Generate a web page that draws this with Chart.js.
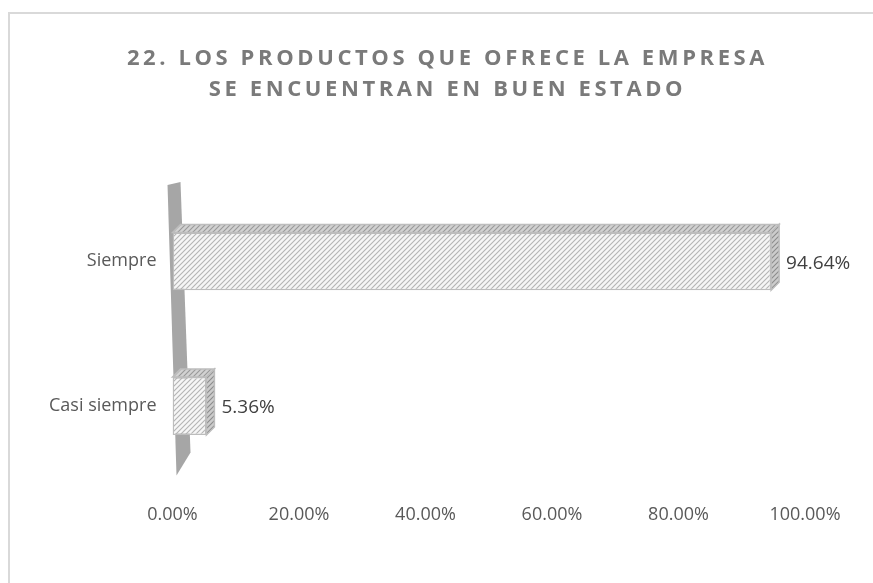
<!DOCTYPE html>
<html>
<head>
<meta charset="utf-8">
<script src="https://cdn.jsdelivr.net/npm/chart.js@4"></script>
<style>
    html, body { margin: 0; padding: 0; background: #fff; overflow: hidden; }
    #wrap { position: relative; width: 873px; height: 583px; overflow: hidden; }
    #title {
        position: absolute; left: 11px; top: 41px; width: 873px; text-align: center;
        font-family: 'Open Sans', sans-serif; font-weight: bold; font-size: 22px;
        letter-spacing: 3.6px; line-height: 31px; color: #7a7a7a;
    }
    canvas { position: absolute; left: 0; top: 0; }
</style>
</head>
<body>
<div id="wrap">
    <canvas id="chart" width="873" height="583"></canvas>
    <div id="title">22. LOS PRODUCTOS QUE OFRECE LA EMPRESA<br>SE ENCUENTRAN EN BUEN ESTADO</div>
</div>
<script>
// chart data
const categories = ['Siempre', 'Casi siempre'];
const percentValues = [0.9464, 0.0536];
const tickValues = [0, 0.2, 0.4, 0.6, 0.8, 1];

const DEPTH_X = 8;
const DEPTH_Y = -8;

function makeHatch(bg, line) {
    const c = document.createElement('canvas');
    c.width = 5;
    c.height = 5;
    const g = c.getContext('2d');
    g.fillStyle = bg;
    g.fillRect(0, 0, 5, 5);
    g.strokeStyle = line;
    g.lineWidth = 1.1;
    g.beginPath();
    g.moveTo(-1, 6); g.lineTo(6, -1);
    g.moveTo(-1, 1); g.lineTo(1, -1);
    g.moveTo(4, 6); g.lineTo(6, 4);
    g.stroke();
    return g.createPattern(c, 'repeat');
}

const ctx = document.getElementById('chart').getContext('2d');
const frontHatch = makeHatch('#f6f6f6', '#b4b4b4');
const topHatch = makeHatch('#d2d2d2', '#999999');
const sideHatch = makeHatch('#cccccc', '#8c8c8c');

// outer chart frame (only top and left edges are inside the picture)
const framePlugin = {
    id: 'frame',
    beforeDraw(chart) {
        const c = chart.ctx;
        c.save();
        c.strokeStyle = '#d9d9d9';
        c.lineWidth = 2;
        c.beginPath();
        c.moveTo(9, chart.height + 5);
        c.lineTo(9, 13);
        c.lineTo(chart.width + 5, 13);
        c.stroke();
        c.restore();
    }
};

// back wall + 3D faces of bars
const depthPlugin = {
    id: 'depth',
    beforeDatasetsDraw(chart) {
        const c = chart.ctx;
        const area = chart.chartArea;
        const x0 = chart.scales.x.getPixelForValue(0);
        c.save();
        c.fillStyle = '#a6a6a6';
        c.beginPath();
        c.moveTo(x0 - 5, area.top - 4);
        c.lineTo(x0 + 8, area.top - 7);
        c.lineTo(x0 + 18, area.bottom - 26);
        c.lineTo(x0 + 4, area.bottom - 3);
        c.closePath();
        c.fill();
        c.restore();
    },
    afterDatasetsDraw(chart) {
        const c = chart.ctx;
        const meta = chart.getDatasetMeta(0);
        c.save();
        meta.data.forEach((bar) => {
            const left = bar.base;
            const right = bar.x;
            const top = bar.y - bar.height / 2;
            const bottom = bar.y + bar.height / 2;
            c.strokeStyle = '#bdbdbd';
            c.lineWidth = 1.5;
            // top face
            c.fillStyle = topHatch;
            c.beginPath();
            c.moveTo(left, top);
            c.lineTo(left + DEPTH_X, top + DEPTH_Y);
            c.lineTo(right + DEPTH_X, top + DEPTH_Y);
            c.lineTo(right, top);
            c.closePath();
            c.fill();
            c.stroke();
            // right face
            c.fillStyle = sideHatch;
            c.beginPath();
            c.moveTo(right, top);
            c.lineTo(right + DEPTH_X, top + DEPTH_Y);
            c.lineTo(right + DEPTH_X, bottom + DEPTH_Y);
            c.lineTo(right, bottom);
            c.closePath();
            c.fill();
            c.stroke();
        });
        // value labels
        c.fillStyle = '#404040';
        c.font = '19px "Open Sans", sans-serif';
        c.textBaseline = 'middle';
        c.textAlign = 'left';
        meta.data.forEach((bar, i) => {
            const label = (percentValues[i] * 100).toFixed(2) + '%';
            c.fillText(label, bar.x + DEPTH_X + 7, bar.y + 2);
        });
        c.restore();
    }
};

new Chart(ctx, {
    type: 'bar',
    data: {
        labels: categories,
        datasets: [{
            data: percentValues,
            backgroundColor: frontHatch,
            borderColor: '#bdbdbd',
            borderWidth: 1.5,
            borderSkipped: false,
            barPercentage: 0.4,
            categoryPercentage: 1
        }]
    },
    options: {
        indexAxis: 'y',
        responsive: false,
        animation: false,
        layout: {
            padding: { top: 189, left: 33, right: 68, bottom: 31 }
        },
        plugins: {
            legend: { display: false },
            title: { display: false },
            tooltip: { enabled: false }
        },
        scales: {
            x: {
                min: 0,
                max: 1,
                afterBuildTicks: (axis) => {
                    axis.ticks = tickValues.map(v => ({ value: v }));
                },
                grid: { display: false, drawTicks: false },
                border: { display: false },
                ticks: {
                    padding: 26,
                    color: '#595959',
                    font: { family: 'Open Sans', size: 18 },
                    callback: (v) => (v * 100).toFixed(2) + '%'
                }
            },
            y: {
                grid: { display: false, drawTicks: false },
                border: { display: false },
                ticks: {
                    padding: 16,
                    color: '#595959',
                    font: { family: 'Open Sans', size: 18 }
                }
            }
        }
    },
    plugins: [framePlugin, depthPlugin]
});
</script>
</body>
</html>
